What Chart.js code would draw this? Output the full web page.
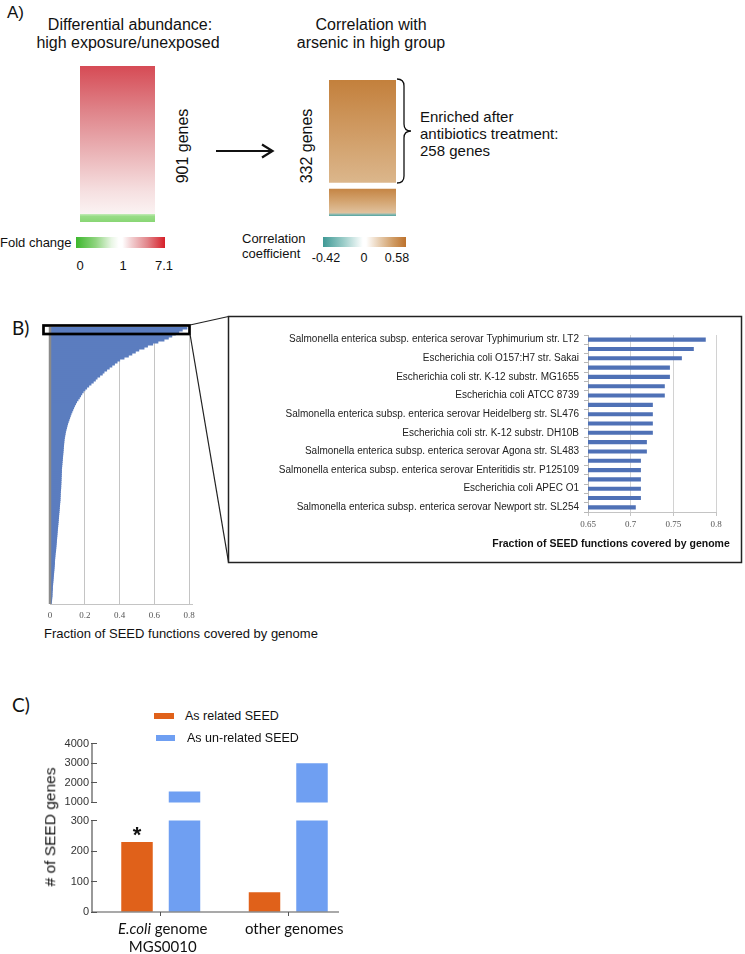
<!DOCTYPE html>
<html><head><meta charset="utf-8">
<script src="https://cdn.jsdelivr.net/npm/chart.js@4.4.1/dist/chart.umd.min.js"></script>
<style>
html,body{margin:0;padding:0;background:#fff;}
#fig{position:relative;width:745px;height:954px;overflow:hidden;font-family:"Liberation Sans",Arial,sans-serif;color:#111;}
.t{position:absolute;white-space:nowrap;line-height:1;font-weight:400;}
.cw{position:absolute;}
canvas{display:block;}
svg{position:absolute;left:0;top:0;z-index:5;pointer-events:none;}
</style></head><body>
<div id="fig">
  <div class="cw" style="left:80px;top:66px;"><canvas id="heatL" width="75" height="156"></canvas></div>
  <div class="cw" style="left:329px;top:80px;"><canvas id="heatR" width="67" height="136"></canvas></div>
  <div class="cw" style="left:30px;top:320px;"><canvas id="bLeft" width="180" height="305"></canvas></div>
  <div class="cw" style="left:232px;top:320px;"><canvas id="bInset" width="508" height="218"></canvas></div>
  <div class="cw" style="left:40px;top:735px;"><canvas id="cTop" width="320" height="76"></canvas></div>
  <div class="cw" style="left:40px;top:812px;"><canvas id="cBot" width="320" height="142"></canvas></div>
  <svg width="745" height="954" viewBox="0 0 745 954">
    <line x1="216" y1="151" x2="271" y2="151" stroke="#111" stroke-width="2"/>
    <polyline points="262,144.5 272.5,151 262,157.5" fill="none" stroke="#111" stroke-width="2.2"/>
    <path d="M397,79 Q404,79 404,86 L404,124 Q404,131 411,131 Q404,131 404,138 L404,176 Q404,183 397,183" fill="none" stroke="#111" stroke-width="1.3"/>
    <rect x="43.5" y="325.5" width="146" height="8.5" fill="none" stroke="#000" stroke-width="2.7"/>
    <line x1="190" y1="325" x2="228.5" y2="316.5" stroke="#222" stroke-width="1.2"/>
    <line x1="190" y1="334" x2="228.5" y2="562" stroke="#222" stroke-width="1.2"/>
    <rect x="228.5" y="316.5" width="513" height="246" fill="none" stroke="#222" stroke-width="1.5"/>
  </svg>
</div>
<script>
// ---------- DATA ----------
// Panel A
const foldCategories = ['901 genes'];
const foldDown = [46];      // fold change < 1 (green rows)
const foldUp = [855];       // fold change > 1 (red rows)
const corrCategories = ['332 genes'];
const corrOther = [74];     // correlated genes not enriched
const corrEnriched = [258]; // enriched after antibiotics treatment
const foldTicks = ['0', '1', '7.1'];
const corrTicks = ['-0.42', '0', '0.58'];

// Panel B (left): fraction of SEED functions per genome, sorted
const genomeCoverage = [
0.787,0.760,0.740,0.720,0.700,0.680,0.655,0.620,0.590,0.560,
0.540,0.510,0.490,0.470,0.450,0.425,0.400,0.385,0.370,0.355,
0.340,0.325,0.310,0.300,0.285,0.270,0.260,0.248,0.235,0.222,
0.210,0.200,0.190,0.182,0.175,0.168,0.160,0.152,0.146,0.140,
0.135,0.130,0.125,0.120,0.116,0.112,0.108,0.104,0.100,0.097,
0.094,0.091,0.088,0.086,0.084,0.082,0.080,0.079,0.078,0.077,
0.076,0.075,0.074,0.073,0.072,0.071,0.070,0.069,0.068,0.067,
0.066,0.065,0.065,0.064,0.064,0.063,0.063,0.062,0.062,0.061,
0.061,0.060,0.059,0.058,0.058,0.057,0.057,0.056,0.055,0.054,
0.053,0.052,0.051,0.050,0.049,0.048,0.047,0.046,0.045,0.044,
0.043,0.042,0.041,0.040,0.039,0.038,0.037,0.036,0.035,0.034,
0.033,0.032,0.031,0.029,0.028,0.027,0.026,0.025,0.025,0.024,
0.023,0.022,0.021,0.020,0.019,0.018,0.017,0.016,0.015,0.014,
0.013,0.013,0.012,0.011,0.011,0.010,0.009,0.008,0.007
];
const genomeIds = genomeCoverage.map((_, i) => 'genome ' + (i + 1));
const leftTicks = [0, 0.2, 0.4, 0.6, 0.8];

// Panel B (inset): top 19 genomes
const insetGenomes = [
 'Salmonella enterica subsp. enterica serovar Typhimurium str. LT2', '',
 'Escherichia coli O157:H7 str. Sakai', '',
 'Escherichia coli str. K-12 substr. MG1655', '',
 'Escherichia coli ATCC 8739', '',
 'Salmonella enterica subsp. enterica serovar Heidelberg str. SL476', '',
 'Escherichia coli str. K-12 substr. DH10B', '',
 'Salmonella enterica subsp. enterica serovar Agona str. SL483', '',
 'Salmonella enterica subsp. enterica serovar Enteritidis str. P125109', '',
 'Escherichia coli APEC O1', '',
 'Salmonella enterica subsp. enterica serovar Newport str. SL254'
];
const insetCoverage = [0.788,0.774,0.760,0.746,0.746,0.740,0.740,0.726,0.726,0.726,
                       0.726,0.719,0.719,0.712,0.712,0.712,0.712,0.712,0.706];
const insetTicks = [0.65, 0.7, 0.75, 0.8];

// Panel C
const cCategories = [['E.coli genome', 'MGS0010'], ['other genomes']];
const cItalic = ['E.coli', ''];
const seriesNames = ['As related SEED', 'As un-related SEED'];
const relatedCounts = [230, 65];
const unrelatedCounts = [1550, 3000];
const significance = ['*', ''];
const cTopTicks = [1000, 2000, 3000, 4000];
const cBotTicks = [0, 100, 200, 300];

// ---------- STYLE ----------
const ORANGE = '#e0611a', BLUE = '#6f9ff2', BARBLUE = '#5b7dbf', INSETBLUE = '#4f71b6';
const fig = document.getElementById('fig');
function txt(s, x, y, o = {}) {
  const d = document.createElement('div');
  d.className = 't';
  d.textContent = s;
  d.style.left = x + 'px'; d.style.top = y + 'px';
  d.style.fontSize = (o.size || 14) + 'px';
  if (o.family) d.style.fontFamily = o.family;
  if (o.weight) d.style.fontWeight = o.weight;
  if (o.color) d.style.color = o.color;
  let tr = o.anchor === 'left' ? 'translate(0,-50%)' : 'translate(-50%,-50%)';
  if (o.rot) tr += ' rotate(' + o.rot + 'deg)';
  d.style.transform = tr;
  fig.appendChild(d);
  return d;
}
function bar(x, y, w, h, bg) {
  const d = document.createElement('div');
  d.style.cssText = `position:absolute;left:${x}px;top:${y}px;width:${w}px;height:${h}px;background:${bg};`;
  fig.appendChild(d);
}

// Panel A text
txt('A)', 7, 12, {anchor: 'left', size: 17});
txt('Differential abundance:', 130, 25, {size: 16});
txt('high exposure/unexposed', 128, 43, {size: 16});
txt('Correlation with', 371, 25, {size: 16});
txt('arsenic in high group', 371, 43, {size: 16});
txt(foldUp[0] + foldDown[0] + ' genes', 183, 146, {size: 16, rot: -90});
txt(corrEnriched[0] + corrOther[0] + ' genes', 307, 146, {size: 16, rot: -90});
txt('Enriched after', 420, 116, {anchor: 'left', size: 15});
txt('antibiotics treatment:', 420, 133, {anchor: 'left', size: 15});
txt(corrEnriched[0] + ' genes', 420, 150, {anchor: 'left', size: 15});
txt('Fold change', 0, 242, {anchor: 'left', size: 13});
bar(76, 237, 89, 11, 'linear-gradient(to right,#3cb72d 0%,#8fd47f 22%,#e9f6e5 40%,#ffffff 48%,#ffffff 52%,#f2d0d2 62%,#e2868b 80%,#d61f29 100%)');
[80, 123, 164].forEach((x, i) => txt(foldTicks[i], x, 265, {size: 13}));
txt('Correlation', 242, 238, {anchor: 'left', size: 13});
txt('coefficient', 242, 253, {anchor: 'left', size: 13});
bar(323, 237, 83, 10, 'linear-gradient(to right,#3f9995 0%,#9ccdc9 25%,#ffffff 48%,#ffffff 52%,#e7cdb0 68%,#cf9a62 85%,#bd722d 100%)');
[326, 364, 397].forEach((x, i) => txt(corrTicks[i], x, 258, {size: 12.5}));

// Panel B text
txt('B)', 12, 327, {anchor: 'left', size: 19, family: 'Lato'});
txt('Fraction of SEED functions covered by genome', 44, 633, {anchor: 'left', size: 13});
txt('Fraction of SEED functions covered by genome', 611, 543, {size: 10.5, weight: 'bold'});

// Panel C text
txt('C)', 12, 704, {anchor: 'left', size: 19, family: 'Lato'});
txt('# of SEED genes', 50, 827, {size: 15.5, rot: -90, weight: '400', family: '"Liberation Sans", Arial, sans-serif'});
const legPos = [[154, 713, 20], [156, 735, 19]];
seriesNames.forEach((n, i) => {
  const [x, y, w] = legPos[i];
  bar(x, y, w, 5.5, i === 0 ? ORANGE : BLUE);
  txt(n, x + 31, y + 3, {anchor: 'left', size: 12.5});
});

// ---------- CHARTS ----------
Chart.defaults.font.family = '"Liberation Sans", Arial, sans-serif';
Chart.defaults.animation = false;
const base = {responsive: false, maintainAspectRatio: false, animation: false,
  plugins: {legend: {display: false}, tooltip: {enabled: false}}};

function vGrad(chart, fromVal, toVal, stops) {
  const {ctx, chartArea, scales} = chart;
  if (!chartArea || !scales.y) return stops[0][1];
  const yTop = scales.y.getPixelForValue(toVal);
  const yBot = scales.y.getPixelForValue(fromVal);
  const g = ctx.createLinearGradient(0, yTop, 0, yBot);
  stops.forEach(([o, c]) => g.addColorStop(o, c));
  return g;
}
const redStops = [[0, '#d64b55'], [0.3, '#df8389'], [0.6, '#ebb6b9'], [0.85, '#f6e0e1'], [1, '#fbf3f3']];
const greenStops = [[0, '#c3ecb7'], [0.3, '#98dc86'], [1, '#88d674']];
const brownTopStops = [[0, '#c3803c'], [0.5, '#d09c65'], [1, '#dcb88e']];
const brownBotStops = [[0, '#c17d39'], [0.5, '#d3a36f'], [0.9, '#e0c29e'], [0.93, '#9fbfb3'], [1, '#4fa39f']];

const heatOpts = Object.assign({}, base, {
  layout: {padding: 0},
  datasets: {bar: {barPercentage: 1, categoryPercentage: 1, inflateAmount: 0, borderSkipped: false}},
});

new Chart(document.getElementById('heatL'), {
  type: 'bar',
  data: {labels: foldCategories, datasets: [
    {label: 'Fold change < 1', data: foldDown, borderWidth: 0,
     backgroundColor: c => vGrad(c.chart, 0, foldDown[0], greenStops)},
    {label: 'Fold change > 1', data: foldUp, borderWidth: 0,
     backgroundColor: c => vGrad(c.chart, foldDown[0], foldDown[0] + foldUp[0], redStops)}
  ]},
  options: Object.assign({}, heatOpts, {scales: {
    x: {display: false, stacked: true},
    y: {display: false, stacked: true, min: 0, max: foldDown[0] + foldUp[0]}}})
});

new Chart(document.getElementById('heatR'), {
  type: 'bar',
  data: {labels: corrCategories, datasets: [
    {label: 'Other correlated', data: corrOther, borderColor: '#fff',
     borderWidth: {top: 3, bottom: 0, left: 0, right: 0},
     backgroundColor: c => vGrad(c.chart, 0, corrOther[0], brownBotStops)},
    {label: 'Enriched after antibiotics', data: corrEnriched, borderColor: '#fff',
     borderWidth: {top: 0, bottom: 3, left: 0, right: 0},
     backgroundColor: c => vGrad(c.chart, corrOther[0], corrOther[0] + corrEnriched[0], brownTopStops)}
  ]},
  options: Object.assign({}, heatOpts, {scales: {
    x: {display: false, stacked: true},
    y: {display: false, stacked: true, min: 0, max: corrOther[0] + corrEnriched[0]}}})
});

// Panel B left
const zeroLine = {
  id: 'zeroLine',
  afterDatasetsDraw(chart) {
    const {ctx, chartArea: a, scales: {x}} = chart;
    const px = x.getPixelForValue(0);
    ctx.save();
    ctx.strokeStyle = '#8a8a8a'; ctx.lineWidth = 2.5;
    ctx.beginPath(); ctx.moveTo(px, a.top); ctx.lineTo(px, a.bottom); ctx.stroke();
    ctx.restore();
  }
};
new Chart(document.getElementById('bLeft'), {
  type: 'bar',
  data: {labels: genomeIds, datasets: [{data: genomeCoverage, backgroundColor: BARBLUE, borderWidth: 0,
    barPercentage: 1, categoryPercentage: 1, inflateAmount: 0.6}]},
  plugins: [zeroLine],
  options: Object.assign({}, base, {
    indexAxis: 'y',
    layout: {padding: {left: 20, right: 17.5, top: 7, bottom: 0}},
    scales: {
      x: {type: 'linear', min: 0, max: 0.82,
        afterBuildTicks: s => { s.ticks = leftTicks.map(v => ({value: v})); },
        ticks: {padding: 6, color: '#555', font: {family: '"Liberation Serif", serif', size: 9},
          callback: v => String(Math.round(v * 10) / 10)},
        grid: {drawTicks: false, color: c => (c.tick && c.tick.value === 0) ? 'rgba(0,0,0,0)' : '#c4c4c4'},
        border: {color: '#c4c4c4'},
        afterFit: s => { s.height = 21; }},
      y: {display: false}
    }
  })
});

// Panel B inset
new Chart(document.getElementById('bInset'), {
  type: 'bar',
  data: {labels: insetGenomes, datasets: [{data: insetCoverage, backgroundColor: INSETBLUE, borderWidth: 0,
    barPercentage: 0.44, categoryPercentage: 1}]},
  options: Object.assign({}, base, {
    indexAxis: 'y',
    layout: {padding: {left: 0, right: 24, top: 15, bottom: 0}},
    scales: {
      x: {type: 'linear', min: 0.65, max: 0.8,
        afterBuildTicks: s => { s.ticks = insetTicks.map(v => ({value: v})); },
        ticks: {padding: 3, color: '#555', font: {family: '"Liberation Serif", serif', size: 9},
          callback: v => String(+v.toFixed(2))},
        grid: {tickLength: 4, tickColor: '#c4c4c4', color: c => c.index === 0 ? 'rgba(0,0,0,0)' : '#d2d2d2'},
        border: {color: '#c4c4c4'},
        afterFit: s => { s.height = 26; }},
      y: {ticks: {autoSkip: false, padding: 5, color: '#222', font: {size: 10}},
        grid: {drawOnChartArea: false, tickLength: 4, color: '#b8b8b8', offset: true},
        border: {color: '#b8b8b8'},
        afterFit: s => { s.width = 356; }}
    }
  })
});

// Panel C (broken axis: two stacked charts)
const axisLines = {
  id: 'axisLines',
  afterDatasetsDraw(chart, args, opts) {
    const {ctx, chartArea: a} = chart;
    ctx.save();
    ctx.strokeStyle = '#555'; ctx.lineWidth = 1.2;
    ctx.beginPath();
    const x0 = a.left - 5;
    ctx.moveTo(x0, a.top); ctx.lineTo(x0, a.bottom);
    if (opts.baseLine) { ctx.moveTo(x0, a.bottom); ctx.lineTo(a.right - 13, a.bottom); }
    ctx.stroke();
    ctx.restore();
  }
};
const catLabels = {
  id: 'catLabels',
  afterDraw(chart) {
    const {ctx, chartArea: a, scales: {x}} = chart;
    ctx.save();
    ctx.fillStyle = '#111';
    ctx.textBaseline = 'middle';
    cCategories.forEach((lines, i) => {
      const cx = x.getPixelForValue(i) + (i === 1 ? 6 : 2);
      lines.forEach((line, j) => {
        const y = a.bottom + 17 + j * 18;
        const it = cItalic[i];
        if (it && line.startsWith(it)) {
          const rest = line.slice(it.length);
          ctx.font = 'italic 15px Lato'; const w1 = ctx.measureText(it).width;
          ctx.font = '15px Lato'; const w2 = ctx.measureText(rest).width;
          const sx = cx - (w1 + w2) / 2;
          ctx.textAlign = 'left';
          ctx.font = 'italic 15px Lato'; ctx.fillText(it, sx, y);
          ctx.font = '15px Lato'; ctx.fillText(rest, sx + w1, y);
        } else {
          ctx.font = '15px Lato'; ctx.textAlign = 'center';
          ctx.fillText(line, cx, y);
        }
      });
    });
    const meta = chart.getDatasetMeta(0);
    ctx.textBaseline = 'alphabetic';
    ctx.textAlign = 'center';
    ctx.font = 'bold 22px "Liberation Sans"';
    significance.forEach((s, i) => { if (s) ctx.fillText(s, meta.data[i].x, meta.data[i].y); });
    ctx.restore();
  }
};
function cDatasets() {
  return [
    {label: seriesNames[0], data: relatedCounts, backgroundColor: ORANGE, borderWidth: 0, clip: 0},
    {label: seriesNames[1], data: unrelatedCounts, backgroundColor: BLUE, borderWidth: 0, clip: 0}
  ];
}
const cBarOpts = {bar: {barPercentage: 0.663, categoryPercentage: 0.745}};
const cYTicks = {padding: 2, color: '#333', font: {size: 11}, callback: v => String(v)};
const cYGrid = {drawOnChartArea: false, tickLength: 6, color: '#555'};

new Chart(document.getElementById('cTop'), {
  type: 'bar',
  data: {labels: cCategories, datasets: cDatasets()},
  plugins: [axisLines],
  options: Object.assign({}, base, {
    datasets: cBarOpts,
    layout: {padding: {left: 0, right: 8, top: 5, bottom: 3}},
    plugins: {legend: {display: false}, tooltip: {enabled: false}, axisLines: {baseLine: false}},
    scales: {
      x: {display: false},
      y: {min: cTopTicks[0], max: cTopTicks[cTopTicks.length - 1],
        afterBuildTicks: s => { s.ticks = cTopTicks.map(v => ({value: v})); },
        ticks: cYTicks, grid: cYGrid, border: {display: false},
        afterFit: s => { s.width = 57; }}
    }
  })
});

new Chart(document.getElementById('cBot'), {
  type: 'bar',
  data: {labels: cCategories, datasets: cDatasets()},
  plugins: [axisLines, catLabels],
  options: Object.assign({}, base, {
    datasets: cBarOpts,
    layout: {padding: {left: 0, right: 8, top: 5, bottom: 0}},
    plugins: {legend: {display: false}, tooltip: {enabled: false}, axisLines: {baseLine: true}},
    scales: {
      x: {ticks: {display: false}, grid: {drawOnChartArea: false, offset: false, tickLength: 4, color: '#555'},
        border: {display: false}, afterFit: s => { s.height = 42; }},
      y: {min: cBotTicks[0], max: cBotTicks[cBotTicks.length - 1],
        afterBuildTicks: s => { s.ticks = cBotTicks.map(v => ({value: v})); },
        ticks: cYTicks, grid: cYGrid, border: {display: false},
        afterFit: s => { s.width = 57; }}
    }
  })
});
</script>
</body></html>
